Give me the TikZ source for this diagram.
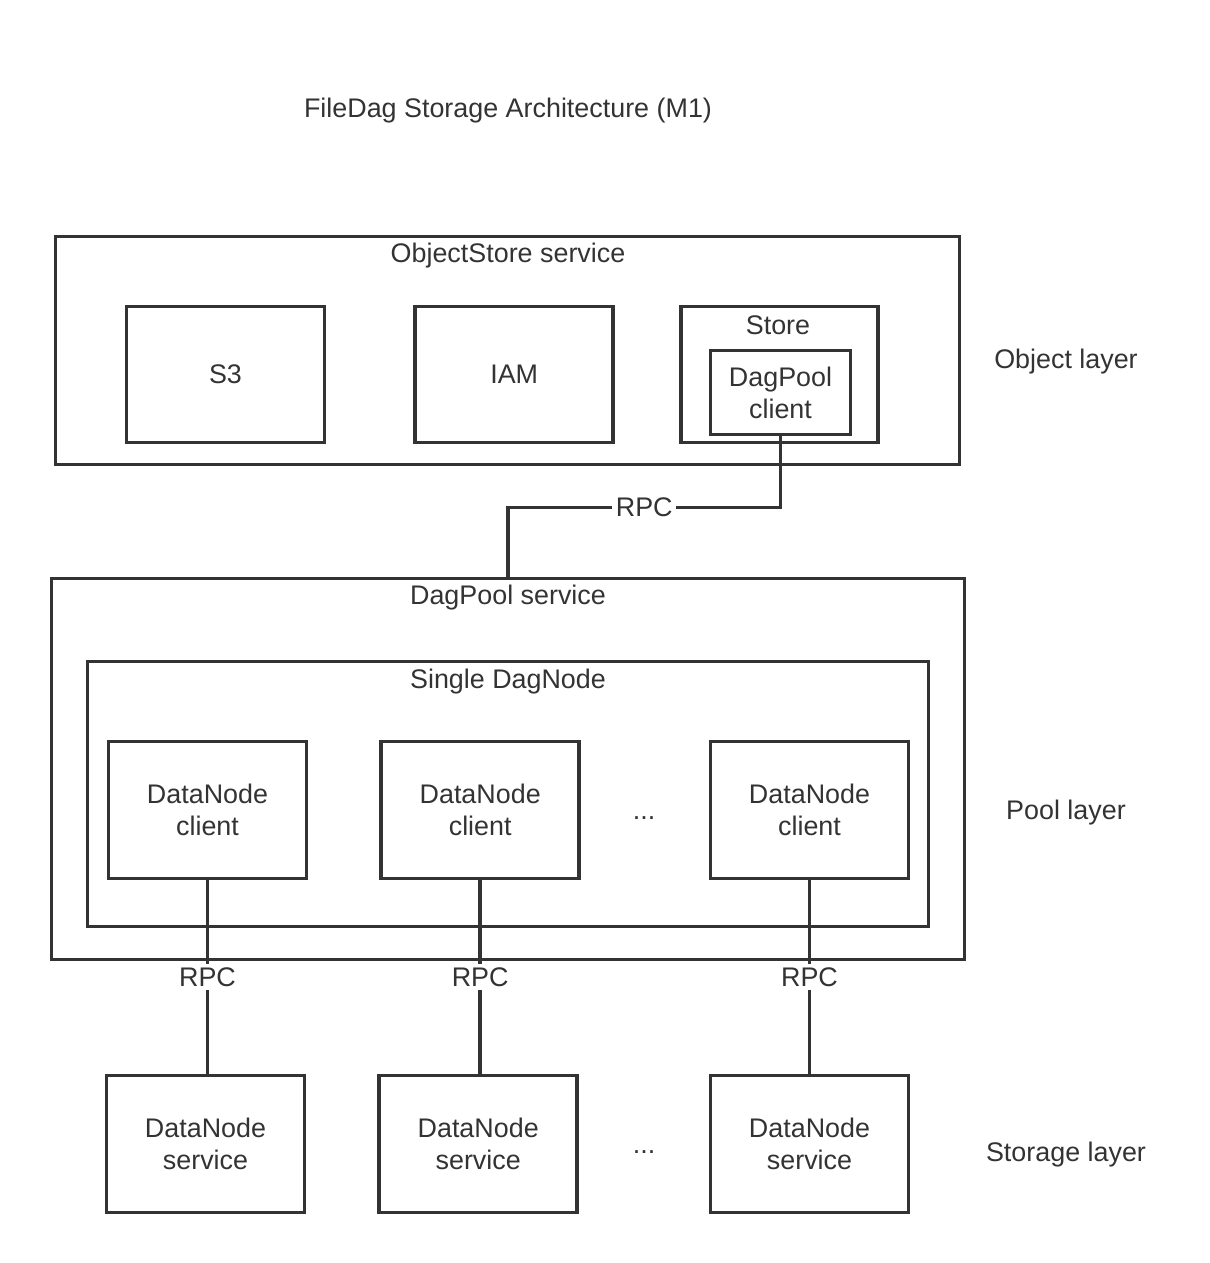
\documentclass[tikz,border=0pt]{standalone}
\usepackage{xcolor}
\usepackage{tikz}
\usepackage{fontspec}
\setmainfont{Liberation Sans}
\usetikzlibrary{positioning}
\definecolor{ink}{HTML}{333333}

\begin{document}
\begin{tikzpicture}[
  block/.style={draw=ink, line width=2.1pt, minimum width=3.96cm,
                minimum height=2.74cm, align=center, inner sep=0pt},
  frame/.style={draw=ink, line width=2.1pt, inner sep=0pt},
  caption/.style={text=ink, font=\fontsize{15.3}{18.2}\selectfont, align=center, inner sep=1pt},
  wire/.style={draw=ink, line width=2.1pt},
  rpc/.style={fill=white, text=ink, font=\fontsize{15.3}{18.2}\selectfont, inner sep=2pt},
  every node/.append style={text=ink, font=\fontsize{15.3}{18.2}\selectfont},
]
  \useasboundingbox (0,0) rectangle (24.2,-25.26);

  \node[caption] (title) at (10.16,-2.22) {FileDag Storage Architecture (M1)};

  % object layer
  \node[frame, minimum width=18.08cm, minimum height=4.56cm] (os) at (10.15,-7.01) {};
  \node[caption] (oslbl) at (10.16,-5.12) {ObjectStore service};
  \node[block, minimum height=2.72cm] (s3) at (4.51,-7.49) {S3};
  \node[block, minimum height=2.72cm, right=1.74cm of s3] (iam) {IAM};
  \node[frame, minimum width=3.94cm, minimum height=2.72cm, right=1.28cm of iam] (store) {};
  \node[caption] (storelbl) at (15.56,-6.5) {Store};
  \node[block, minimum width=2.8cm, minimum height=1.68cm] (dpc) at (15.61,-7.85) {DagPool\\client};
  \node[caption] (objlayer) at (21.32,-7.24) {Object layer};

  % pool layer
  \node[frame, minimum width=18.26cm, minimum height=7.62cm] (dps) at (10.16,-15.38) {};
  \node[caption] (dpslbl) at (10.16,-11.96) {DagPool service};
  \node[frame, minimum width=16.82cm, minimum height=5.3cm] (sdn) at (10.16,-15.88) {};
  \node[caption] (sdnlbl) at (10.16,-13.64) {Single DagNode};
  \node[block] (c1) at (4.15,-16.2) {DataNode\\client};
  \node[block, right=1.42cm of c1] (c2) {DataNode\\client};
  \node[block] (c3) at (16.19,-16.2) {DataNode\\client};
  \node[caption] (cdots) at (12.88,-16.36) {...};
  \node[caption] (poollayer) at (21.32,-16.26) {Pool layer};

  % storage layer
  \node[block] (s1) at (4.11,-22.88) {DataNode\\service};
  \node[block, right=1.42cm of s1] (s2) {DataNode\\service};
  \node[block] (s3svc) at (16.19,-22.88) {DataNode\\service};
  \node[caption] (sdots) at (12.88,-23.04) {...};
  \node[caption] (storagelayer) at (21.32,-23.1) {Storage layer};

  % connectors
  \draw[wire] (dpc.south) -- ++(0,-1.42) -| node[pos=0.25, rpc] {RPC} (dps.north);
  \draw[wire] (c1.south) -- node[rpc] {RPC} (c1.south |- s1.north);
  \draw[wire] (c2.south) -- node[rpc] {RPC} (c2.south |- s2.north);
  \draw[wire] (c3.south) -- node[rpc] {RPC} (c3.south |- s3svc.north);
\end{tikzpicture}
\end{document}
